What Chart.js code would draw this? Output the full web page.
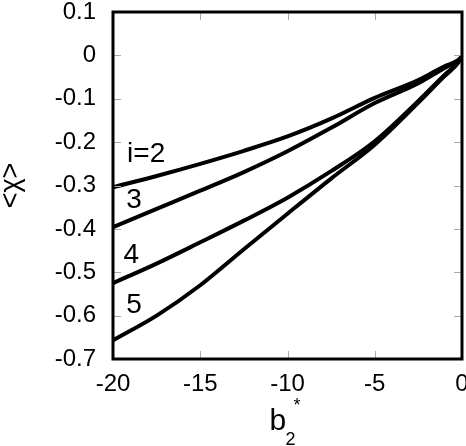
<!DOCTYPE html>
<html>
<head>
<meta charset="utf-8">
<script src="https://cdn.jsdelivr.net/npm/chart.js@4"></script>
<style>
  html, body { margin: 0; padding: 0; background: #fff; }
  #wrap { width: 466px; height: 446px; }
</style>
</head>
<body>
<div id="wrap"><canvas id="chi"></canvas></div>
<script>
// values
var bValues = [-20, -17.5, -15, -12.5, -10, -7.5, -5, -2.5, -1, -0.3, 0];
var chi2 = [-0.304, -0.278, -0.250, -0.220, -0.187, -0.146, -0.098, -0.057, -0.025, -0.013, -0.003];
var chi3 = [-0.396, -0.354, -0.312, -0.269, -0.221, -0.167, -0.110, -0.064, -0.029, -0.014, -0.003];
var chi4 = [-0.525, -0.480, -0.431, -0.381, -0.328, -0.267, -0.198, -0.105, -0.045, -0.019, -0.003];
var chi5 = [-0.657, -0.600, -0.530, -0.447, -0.365, -0.284, -0.206, -0.109, -0.048, -0.021, -0.003];

var curveLabels = ['i=2', '3', '4', '5'];
var labelAt = [[-18.1, -0.227], [-18.8, -0.335], [-18.95, -0.462], [-18.8, -0.577]];

var FONT = "'Liberation Sans', Arial, sans-serif";

function points(ys) {
  return bValues.map(function(x, i) { return {x: x, y: ys[i]}; });
}

function series(ys) {
  return {
    data: points(ys),
    borderColor: '#000',
    borderWidth: 4,
    pointRadius: 0,
    fill: false,
    cubicInterpolationMode: 'monotone'
  };
}

// frame, inside ticks, curve labels and the b2* axis title
var decorations = {
  id: 'decorations',
  afterDatasetsDraw: function(chart) {
    var ctx = chart.ctx, a = chart.chartArea;
    var xs = chart.scales.x, ys = chart.scales.y;
    ctx.save();

    ctx.strokeStyle = '#aaa';
    ctx.lineWidth = 1;
    ctx.beginPath();
    xs.ticks.forEach(function(t) {
      var px = Math.round(xs.getPixelForValue(t.value)) + 0.5;
      ctx.moveTo(px, a.bottom); ctx.lineTo(px, a.bottom - 8);
      ctx.moveTo(px, a.top); ctx.lineTo(px, a.top + 8);
    });
    ys.ticks.forEach(function(t) {
      var py = Math.round(ys.getPixelForValue(t.value)) + 0.5;
      ctx.moveTo(a.left, py); ctx.lineTo(a.left + 8, py);
      ctx.moveTo(a.right, py); ctx.lineTo(a.right - 8, py);
    });
    ctx.stroke();

    ctx.strokeStyle = '#000';
    ctx.lineWidth = 3;
    ctx.strokeRect(a.left, a.top, a.right - a.left, a.bottom - a.top);

    ctx.fillStyle = '#000';
    ctx.font = '28px ' + FONT;
    ctx.textAlign = 'center';
    ctx.textBaseline = 'middle';
    curveLabels.forEach(function(txt, i) {
      ctx.fillText(txt, xs.getPixelForValue(labelAt[i][0]), ys.getPixelForValue(labelAt[i][1]));
    });

    var cx = (a.left + a.right) / 2;
    ctx.textAlign = 'left';
    ctx.textBaseline = 'alphabetic';
    ctx.font = '30px ' + FONT;
    ctx.fillText('b', cx - 18, a.bottom + 71);
    ctx.font = '18px ' + FONT;
    ctx.fillText('2', cx - 2, a.bottom + 86);
    ctx.fillText('*', cx + 6, a.bottom + 52);
    ctx.restore();
  }
};

new Chart('chi', {
  type: 'line',
  data: {
    datasets: [series(chi2), series(chi3), series(chi4), series(chi5)]
  },
  options: {
    responsive: true,
    maintainAspectRatio: false,
    animation: false,
    layout: { padding: { left: 0, right: 4, top: 12, bottom: 0 } },
    plugins: {
      legend: { display: false },
      tooltip: { enabled: false }
    },
    scales: {
      x: {
        type: 'linear',
        min: -20,
        max: 0,
        border: { display: false },
        grid: { display: false, drawTicks: false },
        ticks: {
          stepSize: 5,
          padding: 11,
          color: '#000',
          font: { family: FONT, size: 24 }
        },
        afterFit: function(scale) {
          scale.height = 87;
          scale.paddingLeft = 0;
          scale.paddingRight = 0;
        }
      },
      y: {
        min: -0.7,
        max: 0.1,
        border: { display: false },
        grid: { display: false, drawTicks: false },
        ticks: {
          stepSize: 0.1,
          padding: 17,
          color: '#000',
          font: { family: FONT, size: 24 }
        },
        title: {
          display: true,
          text: '<χ>',
          color: '#000',
          padding: 0,
          font: { family: FONT, size: 27, lineHeight: 0.85 }
        },
        afterFit: function(scale) {
          scale.width = 113;
          scale.paddingTop = 0;
          scale.paddingBottom = 0;
        }
      }
    }
  },
  plugins: [decorations]
});
</script>
</body>
</html>
